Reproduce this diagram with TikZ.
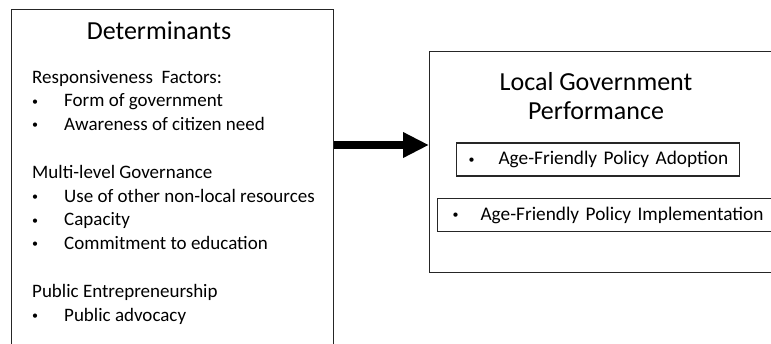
\documentclass[tikz,border=0pt]{standalone}
\usepackage{fontspec}
\setmainfont{Carlito}
\usetikzlibrary{arrows.meta, positioning}
\newcommand{\lstbullet}[1][32pt]{\makebox[#1][l]{\raisebox{1.5pt}{\fontsize{12}{12}\selectfont\textbullet}}}

\begin{document}
\begin{tikzpicture}[x=1pt, y=-1pt,
  frame/.style={draw=black!85, line width=1.1pt},
  head/.style={font=\fontsize{26}{28.5}\selectfont, align=center},
  body/.style={font=\fontsize{19}{23.5}\selectfont, align=left, inner sep=0pt, anchor=north west},
  policy/.style={frame, font=\fontsize{19.3}{23}\selectfont, minimum height=33pt, inner ysep=0pt, anchor=west, align=left}
]
\useasboundingbox (0,0) rectangle (771,343);
\clip (0,0) rectangle (771,343);
% left box
\node[frame, anchor=north west, minimum width=322pt, minimum height=360pt] (det) at (11,9) {};
\node[head] (dettitle) at (159,31) {Determinants};
\node[body] (detlist) at (32,70) {Responsiveness\ \ Factors:\\
\lstbullet Form of government\\
\lstbullet Awareness of citizen need\\[25pt]
Multi-level Governance\\
\lstbullet Use of other non-local resources\\
\lstbullet Capacity\\
\lstbullet Commitment to education\\[25pt]
Public Entrepreneurship\\
\lstbullet Public advocacy};
% right box
\node[frame, anchor=north west, minimum width=400pt, minimum height=221pt] (perf) at (429,51) {};
\node[head] (perftitle) at (596,96) {Local Government\\Performance};
\node[policy, inner xsep=12pt, text width=259pt] (adopt) at (456,159.5) {\mbox{\lstbullet[30pt]Age-Friendly Policy Adoption}};
\node[policy, inner xsep=15pt, text width=370pt] (impl) at (437,215) {\mbox{\lstbullet[28pt]Age-Friendly Policy Implementation}};
% arrow
\draw[-{Triangle[length=26pt,width=24pt]}, line width=8pt] ([yshift=-136pt]det.north east) -- ([yshift=-94pt]perf.north west);
\end{tikzpicture}
\end{document}
